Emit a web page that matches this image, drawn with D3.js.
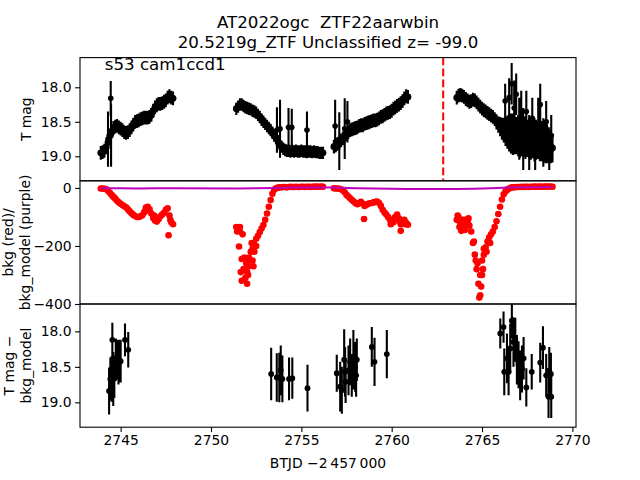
<!DOCTYPE html>
<html><head><meta charset="utf-8">
<script src="https://cdn.jsdelivr.net/npm/d3@7"></script>
<style>
body{margin:0;background:#fff}
svg{display:block}
text{font-family:"DejaVu Sans",sans-serif}
</style></head>
<body><svg id="c" width="640" height="480"></svg>
<script>
// ---------------- data ----------------
const titleLines = ["AT2022ogc  ZTF22aarwbin", "20.5219g_ZTF Unclassified z= -99.0"];
const sectorLabel = "s53 cam1ccd1";
const xTicks = [2745, 2750, 2755, 2760, 2765, 2770];
const magTicks = [18.0, 18.5, 19.0];
const bkgTicks = [0, -200, -400];
const markerTime = 2762.85;

// segment A
const tA = [2743.9,2744.0,2744.1,2744.2,2744.3,2744.4,2744.5,2744.6,2744.7,2744.8,2744.9,2745.0,2745.1,2745.2,2745.3,2745.4,2745.5,2745.6,2745.7,2745.8,2745.9,2746.0,2746.1,2746.2,2746.3,2746.4,2746.5,2746.6,2746.7,2746.8,2746.9,2747.0,2747.1,2747.2,2747.3,2747.4,2747.5,2747.6,2747.7,2747.8,2747.9];
const magA = [18.95,18.94,18.92,18.87,18.80,18.70,18.64,18.59,18.57,18.56,18.58,18.60,18.62,18.65,18.66,18.65,18.62,18.58,18.54,18.50,18.49,18.48,18.46,18.45,18.44,18.44,18.44,18.43,18.40,18.34,18.29,18.26,18.24,18.24,18.23,18.21,18.19,18.15,18.13,18.15,18.16];
const bkgA = [-2,-2,-3,-5,-10,-17,-24,-31,-37,-44,-50,-55,-59,-63,-67,-74,-81,-87,-93,-97,-100,-100,-98,-94,-85,-68,-65,-74,-88,-104,-112,-116,-108,-98,-92,-86,-75,-70,-95,-118,-125];
// segment B
const tB = [2751.4,2751.5,2751.6,2751.7,2751.8,2751.9,2752.0,2752.1,2752.2,2752.3,2752.4,2752.5,2752.6,2752.7,2752.8,2752.9,2753.0,2753.1,2753.2,2753.3,2753.4,2753.5,2753.6,2753.7,2753.8,2753.9,2754.0,2754.1,2754.2,2754.3,2754.4,2754.5,2754.6,2754.7,2754.8,2754.9,2755.0,2755.1,2755.2,2755.3,2755.4,2755.5,2755.6,2755.7,2755.8,2755.9,2756.0,2756.1,2756.2];
const magB = [18.31,18.28,18.25,18.25,18.27,18.29,18.30,18.31,18.32,18.34,18.35,18.37,18.40,18.43,18.47,18.50,18.53,18.56,18.59,18.62,18.66,18.70,18.74,18.78,18.82,18.86,18.89,18.91,18.92,18.92,18.93,18.92,18.93,18.92,18.93,18.93,18.92,18.93,18.93,18.94,18.93,18.93,18.94,18.93,18.94,18.94,18.95,18.95,18.95];
const bkgB = [-135,-142,-150,-245,-280,-310,-330,-270,-220,-210,-195,-175,-165,-152,-140,-128,-110,-88,-65,-42,-20,-6,-1,1,2,2,3,3,2,3,4,3,3,4,3,3,4,4,3,4,4,3,4,4,5,4,4,5,4];
// segment C
const tC = [2756.8,2756.9,2757.0,2757.1,2757.2,2757.3,2757.4,2757.5,2757.6,2757.7,2757.8,2757.9,2758.0,2758.1,2758.2,2758.3,2758.4,2758.5,2758.6,2758.7,2758.8,2758.9,2759.0,2759.1,2759.2,2759.3,2759.4,2759.5,2759.6,2759.7,2759.8,2759.9,2760.0,2760.1,2760.2,2760.3,2760.4,2760.5,2760.6,2760.7,2760.8,2760.9];
const magC = [18.86,18.84,18.82,18.80,18.77,18.74,18.71,18.68,18.65,18.62,18.61,18.60,18.59,18.58,18.56,18.55,18.55,18.53,18.52,18.51,18.50,18.49,18.48,18.48,18.47,18.45,18.43,18.42,18.40,18.38,18.37,18.36,18.34,18.31,18.29,18.27,18.25,18.23,18.20,18.16,18.13,18.14];
const bkgC = [-1,-2,-2,-3,-5,-8,-15,-24,-30,-36,-42,-47,-53,-56,-52,-48,-55,-62,-58,-55,-53,-52,-50,-48,-47,-52,-62,-75,-85,-92,-100,-110,-115,-118,-100,-92,-105,-125,-118,-110,-120,-127];
// segment D
const tD = [2763.6,2763.7,2763.8,2763.9,2764.0,2764.1,2764.2,2764.3,2764.4,2764.5,2764.6,2764.7,2764.8,2764.9,2765.0,2765.1,2765.2,2765.3,2765.4,2765.5,2765.6,2765.7,2765.8,2765.9,2766.0,2766.1,2766.2,2766.3,2766.4,2766.5,2766.6,2766.7,2766.8,2766.9,2767.0,2767.1,2767.2,2767.3,2767.4,2767.5,2767.6,2767.7,2767.8,2767.9,2768.0,2768.1,2768.2,2768.3,2768.4,2768.5,2768.6,2768.7,2768.8,2768.9];
const magD = [18.15,18.12,18.11,18.12,18.14,18.17,18.19,18.21,18.20,18.18,18.19,18.22,18.25,18.28,18.31,18.33,18.35,18.37,18.39,18.41,18.43,18.46,18.50,18.54,18.57,18.60,18.62,18.64,18.65,18.66,18.67,18.68,18.69,18.70,18.70,18.71,18.72,18.72,18.73,18.74,18.74,18.75,18.75,18.76,18.76,18.77,18.77,18.78,18.79,18.80,18.82,18.84,18.86,18.88];
const errD = [0.10,0.10,0.10,0.10,0.10,0.10,0.10,0.10,0.10,0.10,0.10,0.10,0.10,0.10,0.10,0.10,0.10,0.10,0.10,0.10,0.10,0.10,0.11,0.12,0.14,0.16,0.18,0.21,0.24,0.27,0.29,0.30,0.28,0.27,0.30,0.31,0.28,0.29,0.31,0.27,0.29,0.30,0.28,0.31,0.29,0.27,0.30,0.29,0.28,0.30,0.28,0.26,0.24,0.21];
const bkgD = [-110,-100,-120,-140,-125,-110,-118,-130,-150,-190,-230,-280,-330,-370,-300,-230,-205,-185,-170,-160,-150,-135,-115,-90,-65,-40,-22,-12,-6,-2,1,2,2,3,3,3,4,3,4,4,3,4,4,5,4,4,5,4,4,5,5,4,5,4];
const errABC = [0.10, 0.09, 0.10];

// large-error outliers in the T mag panel
const spikeT = [2744.30,2744.45,2744.47, 2753.65,2753.82,2754.29,2754.47,2755.31, 2756.87,2757.10,2757.40,2757.55,
  2766.28,2766.50,2766.64,2766.78,2766.89,2767.06,2767.17,2767.28,2767.45,2767.61,2767.78,2767.94,2768.11,2768.22,2768.39,2768.55,2768.72,2768.83];
const spikeMag = [18.75,18.16,18.70, 18.62,18.60,18.58,18.58,18.62, 18.56,18.78,18.60,18.50,
  18.20,18.15,17.95,18.30,18.10,18.60,18.35,18.75,18.35,18.80,18.45,18.85,18.55,18.25,18.80,18.50,18.95,18.70];
const spikeErr = [0.40,0.25,0.45, 0.33,0.42,0.28,0.27,0.27, 0.38,0.42,0.44,0.30,
  0.25,0.28,0.30,0.40,0.30,0.45,0.30,0.45,0.30,0.40,0.30,0.35,0.40,0.30,0.35,0.30,0.25,0.30];

// scattered background points
const bkgXT = [2747.65,2751.55,2751.75,2751.95,2752.05,2752.30,2752.35,2758.47,2760.50,2763.85,2764.55,2764.75,2764.85,2764.90,2764.95,2765.00,
  2751.45,2751.60,2751.65,2751.70,2751.85,2752.00,2752.10,2752.15,2752.25,2752.40,2752.50,
  2763.65,2763.75,2763.95,2764.05,2764.15,2764.25,2764.65,2765.05,2765.10,2765.25,2765.45,
  2746.35,2746.85,2747.05,2747.75,2759.95,2760.15,2760.45,2760.75];
const bkgXV = [-163,-202,-160,-260,-300,-250,-270,-107,-148,-148,-185,-260,-378,-300,-340,-250,
  -150,-135,-290,-320,-240,-290,-240,-250,-190,-220,-200,
  -95,-135,-110,-145,-130,-105,-250,-280,-210,-220,-190,
  -80,-95,-105,-110,-125,-105,-115,-125];

// background model (purple line)
const modelT = [2743.9,2745.0,2746.0,2747.0,2747.9,2751.4,2752.5,2753.5,2754.5,2755.5,2756.2,2756.8,2758.0,2759.0,2760.0,2760.9,2763.6,2764.5,2765.5,2766.5,2767.5,2768.9];
const modelV = [-1,-1,-2,-1,-1,-2,-1,0,1,1,1,1,-1,-2,-3,-4,-4,-3,-1,1,2,2];

// T mag - bkg_model
const t3 = [2744.36,2744.43,2744.49,2744.54,2744.59,2744.65,2744.73,2744.82,2744.88,2744.94,2745.00,2745.24,2745.42,
  2753.33,2753.64,2753.78,2753.86,2753.95,2754.32,2754.50,2755.34,
  2756.96,2757.15,2757.24,2757.37,2757.42,2757.45,2757.61,2757.70,2757.79,2757.88,2757.98,2758.03,2758.07,2758.90,2759.05,2759.73,
  2766.01,2766.19,2766.23,2766.38,2766.47,2766.56,2766.65,2766.74,2766.84,2766.93,2767.02,2767.11,2767.21,2767.30,2767.45,2767.75,2768.22,2768.37,2768.55,2768.68,2768.72,2768.81,2768.83];
const m3 = [18.84,18.67,18.67,18.12,18.67,18.64,18.40,18.40,18.45,18.42,18.42,18.12,18.26,
  18.60,18.65,18.65,18.55,18.67,18.67,18.66,18.80,
  18.59,18.78,18.83,18.40,18.57,18.71,18.55,18.43,18.62,18.40,18.50,18.62,18.40,18.22,18.43,18.32,
  18.03,17.94,18.57,18.38,18.57,18.24,17.85,18.15,18.11,18.40,18.47,18.62,18.53,18.38,18.79,18.57,18.44,18.23,18.62,18.92,18.55,18.60,18.92];
const e3 = [0.33,0.30,0.32,0.24,0.38,0.30,0.30,0.28,0.30,0.30,0.30,0.23,0.25,
  0.37,0.34,0.35,0.35,0.33,0.30,0.29,0.33,
  0.26,0.35,0.33,0.43,0.35,0.30,0.35,0.33,0.30,0.42,0.35,0.30,0.30,0.28,0.34,0.34,
  0.21,0.22,0.33,0.35,0.33,0.35,0.25,0.35,0.30,0.35,0.33,0.35,0.33,0.30,0.27,0.25,0.28,0.30,0.30,0.30,0.33,0.30,0.30];

// ---------------- layout ----------------
const L = 80, R = 576, T = 57.6, B = 427.2, ph = (B - T) / 3;
const svg = d3.select("#c");
const x = d3.scaleLinear().domain([2742.75, 2770.2]).range([L, R]);
const y1 = d3.scaleLinear().domain([17.57, 19.355]).range([T, T + ph]);
const y2 = d3.scaleLinear().domain([24.5, -400]).range([T + ph, T + 2 * ph]);
const y3 = d3.scaleLinear().domain([17.615, 19.35]).range([T + 2 * ph, B]);
const tops = [T, T + ph, T + 2 * ph];

const defs = svg.append("defs");
tops.forEach((t, i) => {
  defs.append("clipPath").attr("id", "clip" + i).append("rect")
    .attr("x", L).attr("y", t).attr("width", R - L).attr("height", ph);
});

function errorbars(g, ys, ts, ms, es, r) {
  const p = d3.path();
  ts.forEach((t, i) => {
    const e = Array.isArray(es) ? es[i] : es;
    p.moveTo(x(t), ys(ms[i] - e)); p.lineTo(x(t), ys(ms[i] + e));
  });
  g.append("path").attr("d", p.toString()).attr("stroke", "#000").attr("stroke-width", 2.1).attr("fill", "none");
  g.selectAll(null).data(ts).enter().append("circle")
    .attr("cx", d => x(d)).attr("cy", (d, i) => ys(ms[i])).attr("r", r).attr("fill", "#000");
}

// panel 1
const g1 = svg.append("g").attr("clip-path", "url(#clip0)");
errorbars(g1, y1, tA, magA, errABC[0], 3.4);
errorbars(g1, y1, tB, magB, errABC[1], 3.4);
errorbars(g1, y1, tC, magC, errABC[2], 3.4);
errorbars(g1, y1, tD, magD, errD, 3.4);
errorbars(g1, y1, spikeT, spikeMag, spikeErr, 2.8);
svg.append("line").attr("x1", x(markerTime)).attr("x2", x(markerTime)).attr("y1", T).attr("y2", T + ph)
  .attr("stroke", "#ff0000").attr("stroke-width", 2).attr("stroke-dasharray", "7.7,3.3");

// panel 2
const g2 = svg.append("g").attr("clip-path", "url(#clip1)");
const bk = [[tA, bkgA], [tB, bkgB], [tC, bkgC], [tD, bkgD], [bkgXT, bkgXV]];
bk.forEach(([ts, vs]) => {
  g2.selectAll(null).data(ts).enter().append("circle")
    .attr("cx", d => x(d)).attr("cy", (d, i) => y2(vs[i])).attr("r", 3.3).attr("fill", "#ff0000");
});
g2.append("path").datum(modelT)
  .attr("d", d3.line().x(d => x(d)).y((d, i) => y2(modelV[i])))
  .attr("fill", "none").attr("stroke", "#bf00bf").attr("stroke-width", 2);

// panel 3
const g3 = svg.append("g").attr("clip-path", "url(#clip2)");
errorbars(g3, y3, t3, m3, e3, 2.9);

// axes
function yAxis(scale, ticks, fmt) {
  const ax = d3.axisLeft(scale).tickValues(ticks).tickFormat(fmt).tickSizeOuter(0).tickSize(4.9).tickPadding(3.5);
  const g = svg.append("g").attr("transform", `translate(${L},0)`).call(ax);
  g.select(".domain").remove();
  g.selectAll("line").attr("stroke", "#000").attr("stroke-width", 1.1);
  g.selectAll("text").attr("font-family", "DejaVu Sans").attr("font-size", 13.9).attr("fill", "#000");
}
yAxis(y1, magTicks, d3.format(".1f"));
yAxis(y2, bkgTicks, d3.format("d"));
yAxis(y3, magTicks, d3.format(".1f"));
const xa = d3.axisBottom(x).tickValues(xTicks).tickFormat(d3.format("d")).tickSizeOuter(0).tickSize(4.9).tickPadding(3.5);
const gx = svg.append("g").attr("transform", `translate(0,${B})`).call(xa);
gx.select(".domain").remove();
gx.selectAll("line").attr("stroke", "#000").attr("stroke-width", 1.1);
gx.selectAll("text").attr("font-family", "DejaVu Sans").attr("font-size", 13.9).attr("fill", "#000");

// spines
tops.forEach(t => {
  svg.append("rect").attr("x", L).attr("y", t).attr("width", R - L).attr("height", ph)
    .attr("fill", "none").attr("stroke", "#000").attr("stroke-width", 1.1);
});

// texts
titleLines.forEach((s, i) => {
  svg.append("text").attr("x", 328).attr("y", 27.5 + i * 20.5).attr("text-anchor", "middle")
    .attr("font-size", 16.67).style("white-space", "pre").text(s);
});
svg.append("text").attr("x", 104.8).attr("y", 69.9).attr("font-size", 16.67).text(sectorLabel);

function ylab(lines, cy, xs) {
  lines.forEach((s, i) => {
    svg.append("text").attr("transform", `translate(${xs[i]},${cy}) rotate(-90)`)
      .attr("text-anchor", "middle").attr("font-size", 13.9).text(s);
  });
}
ylab(["T mag"], T + ph / 2, [31]);
ylab(["bkg (red)/", "bkg_model (purple)"], T + 1.5 * ph, [13, 30]);
ylab(["T mag \u2212", "bkg_model"], T + 2.5 * ph, [14, 31]);
svg.append("text").attr("x", 328).attr("y", 468).attr("text-anchor", "middle").attr("font-size", 13.9)
  .text("BTJD \u22122\u2009457\u2009000");
</script></body></html>
